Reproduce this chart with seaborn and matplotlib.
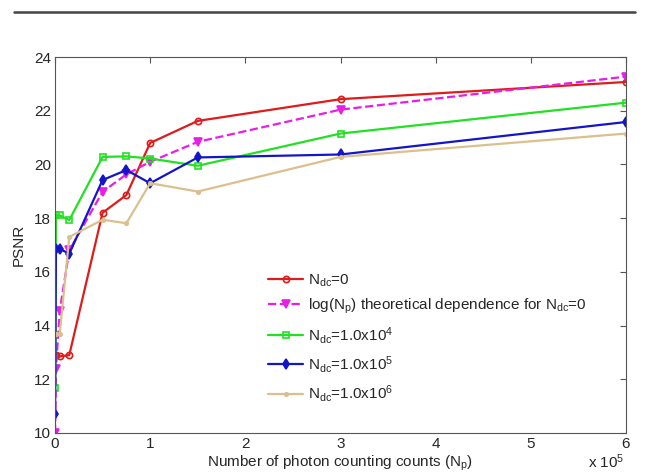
import matplotlib
matplotlib.use("Agg")
import matplotlib.pyplot as plt
from matplotlib.lines import Line2D
import numpy as np
import pandas as pd
import seaborn as sns

# photon counts (N_p) shared by all curves
n_p = [100, 1000, 5000, 15000, 50000, 75000, 100000, 150000, 300000, 600000]

psnr_dc0 = [12.9, 12.9, 12.85, 12.9, 18.2, 18.86, 20.8, 21.62, 22.43, 23.07]
psnr_log = [10.0, 12.4, 14.55, 16.8, 18.98, 19.63, 20.1, 20.84, 22.04, 23.27]
psnr_dc1e4 = [11.68, 18.1, 18.1, 17.93, 20.28, 20.3, 20.22, 19.95, 21.15, 22.3]
psnr_dc1e5 = [10.7, 16.85, 16.85, 16.68, 19.42, 19.79, 19.3, 20.26, 20.37, 21.58]
psnr_dc1e6 = [13.7, 13.7, 13.7, 17.3, 17.94, 17.81, 19.3, 18.99, 20.28, 21.15]

labels = [
    r"N$_{dc}$=0",
    r"log(N$_p$) theoretical dependence for N$_{dc}$=0",
    r"N$_{dc}$=1.0x10$^4$",
    r"N$_{dc}$=1.0x10$^5$",
    r"N$_{dc}$=1.0x10$^6$",
]

sns.set_style("white")
plt.rcParams["font.family"] = ["Liberation Sans", "DejaVu Sans"]
plt.rcParams["mathtext.default"] = "regular"

fig = plt.figure(figsize=(6.53, 4.75), dpi=100)
ax = fig.add_axes([55 / 653, 1 - 433 / 475, 571 / 653, 376 / 475])

x = np.array(n_p) / 1e5
styles = [
    (psnr_dc0, "#dd1c1c", "-", "o", 4.5, "none"),
    (psnr_log, "#e81ee8", "--", "v", 6, None),
    (psnr_dc1e4, "#22e022", "-", "s", 5, "none"),
    (psnr_dc1e5, "#1515c8", "-", "d", 5, None),
    (psnr_dc1e6, "#dcbf8e", "-", ".", 5, None),
]
for (vals, col, ls, mk, ms, mfc), lab in zip(styles, labels):
    df = pd.DataFrame({"x": x, "psnr": vals})
    sns.lineplot(
        data=df, x="x", y="psnr", ax=ax, color=col, linestyle=ls,
        linewidth=1.6, marker=mk, markersize=ms,
        markerfacecolor=col if mfc is None else mfc,
        markeredgecolor=col, markeredgewidth=1.2, label=lab,
    )

ax.set_xlim(0, 6)
ax.set_ylim(10, 24)
ax.set_xticks(range(0, 7))
ax.set_yticks(range(10, 25, 2))
ax.tick_params(direction="in", top=True, right=True, length=4,
               color="#555555", labelsize=11, pad=3)
for sp in ax.spines.values():
    sp.set_color("#555555")
    sp.set_linewidth(0.8)
ax.set_xlabel(r"Number of photon counting counts (N$_p$)", fontsize=11, labelpad=2)
ax.set_ylabel("PSNR", fontsize=11, labelpad=6)
fig.text(588 / 653, 1 - 468 / 475, r"x 10$^5$", fontsize=11)

ax.legend(loc="upper left", bbox_to_anchor=(262 / 653, 1 - 266 / 475),
          bbox_transform=fig.transFigure, frameon=False, fontsize=11,
          handlelength=2.3, labelspacing=0.55, borderaxespad=0, handletextpad=0.3)

# page rule above the figure
fig.add_artist(Line2D([14 / 653, 635 / 653], [1 - 12 / 475] * 2,
                      color="#444444", linewidth=1.8))

fig.savefig("out.png", dpi=100)
